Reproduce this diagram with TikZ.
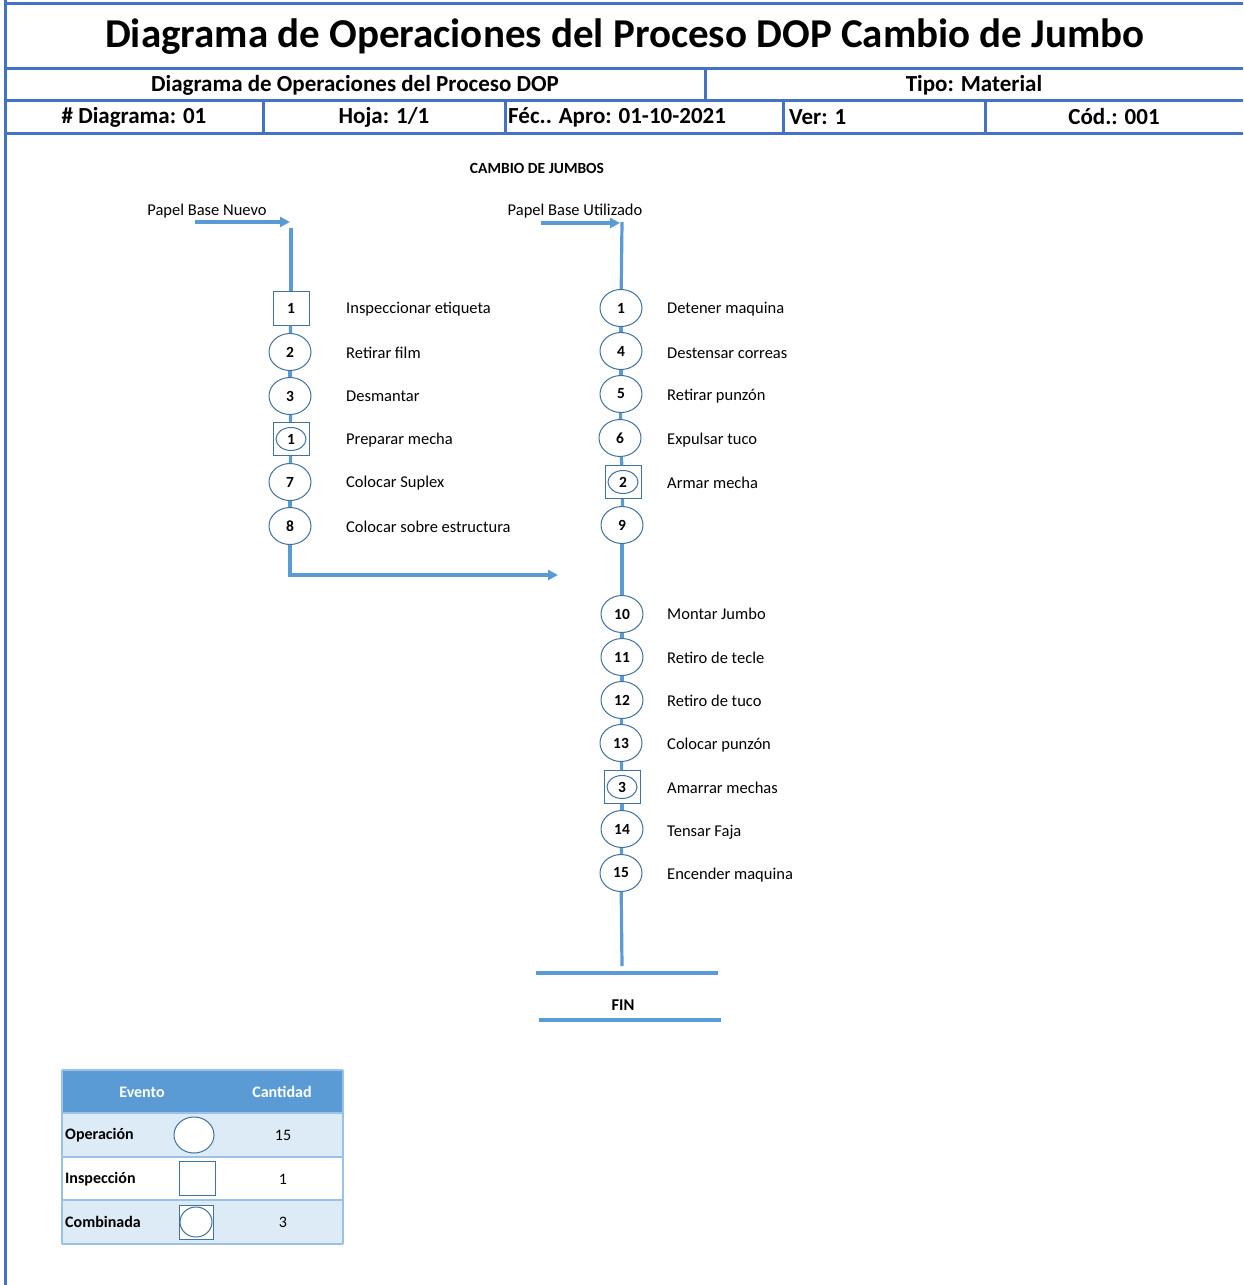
\documentclass[tikz,border=0pt]{standalone}
\usepackage{fontspec}
\setmainfont{Carlito}
\usepackage{tikz}
\usetikzlibrary{shapes.geometric, arrows.meta, positioning, calc}
\definecolor{dopFrame}{RGB}{68, 114, 196}
\definecolor{dopFlow}{RGB}{91, 155, 213}
\definecolor{dopEdge}{RGB}{65, 113, 156}
\definecolor{dopPale}{RGB}{221, 235, 247}
\definecolor{dopGrid}{RGB}{155, 194, 230}
\tikzset{
  frameline/.style={line width=3pt, dopFrame},
  flowline/.style={line width=3.2pt, dopFlow},
  flowarrow/.style={flowline, -{Triangle[length=10pt, width=10pt]}},
  opnode/.style={ellipse, draw=dopEdge, line width=1pt, fill=white, minimum width=42pt, minimum height=37pt, inner sep=0pt, font=\fontsize{15.5}{18}\selectfont\bfseries},
  insnode/.style={rectangle, draw=dopEdge, line width=1pt, fill=white, minimum width=36pt, minimum height=34pt, inner sep=0pt, font=\fontsize{15.5}{18}\selectfont\bfseries},
  combonode/.style={rectangle, draw=dopEdge, line width=1pt, fill=white, minimum width=36pt, minimum height=33pt, inner sep=0pt, font=\fontsize{15.5}{18}\selectfont\bfseries,
    path picture={\draw[dopEdge, line width=1pt] (path picture bounding box.center) ellipse (15pt and 11.5pt);}},
  stepbox/.style={anchor=west, inner sep=0pt, font=\fontsize{16.5}{19}\selectfont},
  headtext/.style={inner sep=0pt, font=\fontsize{23}{26}\selectfont\bfseries},
  celltext/.style={inner sep=0pt, font=\fontsize{16}{19}\selectfont},
}

\begin{document}
\begin{tikzpicture}[x=1pt, y=-1pt]
  \useasboundingbox (0,0) rectangle (1243,1285);

  % header frame
  \draw[frameline] (5,0) -- (5,1285);
  \foreach \y in {3, 68, 100, 133}
    \draw[frameline] (5,\y) -- (1243,\y);
  \draw[frameline] (705,68) -- (705,100);
  \foreach \x in {263, 505, 783, 985}
    \draw[frameline] (\x,100) -- (\x,133);

  \node[inner sep=0pt, font=\fontsize{41}{46}\selectfont\bfseries] (title) at (625,37) {Diagrama de Operaciones del Proceso DOP Cambio de Jumbo};
  \node[headtext] (hdop) at (355,85) {Diagrama de Operaciones del Proceso DOP};
  \node[headtext] (htipo) at (974,85) {Tipo: Material};
  \node[headtext] (hdiag) at (134,117) {\# Diagrama: 01};
  \node[headtext] (hhoja) at (384,117) {Hoja: 1/1};
  \node[headtext, anchor=west] (hfec) at (508,117) {Féc.. Apro: 01-10-2021};
  \node[headtext, anchor=west] (hver) at (789,117) {Ver: 1};
  \node[headtext] (hcod) at (1114,117) {Cód.: 001};

  \node[inner sep=0pt, font=\fontsize{15.5}{18}\selectfont\bfseries] (cambio) at (537,168) {CAMBIO DE JUMBOS};

  % inputs
  \node[celltext, font=\fontsize{16.5}{19}\selectfont] (pbn) at (207,211) {Papel Base Nuevo};
  \node[celltext, font=\fontsize{16.5}{19}\selectfont] (pbu) at (575,211) {Papel Base Utilizado};
  \coordinate (srcL) at (195,222);
  \coordinate (tipL) at (290,222);
  \coordinate (inL) at (291,228);
  \coordinate (srcR) at (541,223);
  \coordinate (tipR) at (620,223);
  \coordinate (inR) at (622,222);
  \coordinate (joinR) at (558,575);
  \coordinate (endR) at (622,966);

  % left column
  \node[insnode] (l1) at (291,308) {1};
  \node[opnode] (l2) at (290,352) {2};
  \node[opnode] (l3) at (290,396) {3};
  \node[combonode] (l4) at (291,439) {1};
  \node[opnode] (l5) at (290,482) {7};
  \node[opnode] (l6) at (290,526) {8};

  \node[stepbox] (tl1) at (346,309) {Inspeccionar etiqueta};
  \node[stepbox] (tl2) at (346,353) {Retirar film};
  \node[stepbox] (tl3) at (346,396) {Desmantar};
  \node[stepbox] (tl4) at (346,440) {Preparar mecha};
  \node[stepbox] (tl5) at (346,483) {Colocar Suplex};
  \node[stepbox] (tl6) at (346,527) {Colocar sobre estructura};

  % right column
  \node[opnode] (r1) at (621,308) {1};
  \node[opnode] (r2) at (621,351) {4};
  \node[opnode] (r3) at (621,394) {5};
  \node[opnode] (r4) at (620,438) {6};
  \node[combonode] (r5) at (623,482) {2};
  \node[opnode] (r6) at (622,525) {9};
  \node[opnode] (r7) at (622,614) {10};
  \node[opnode] (r8) at (622,657) {11};
  \node[opnode] (r9) at (622,700) {12};
  \node[opnode] (r10) at (621,743) {13};
  \node[combonode] (r11) at (622,787) {3};
  \node[opnode] (r12) at (622,829) {14};
  \node[opnode] (r13) at (621,873) {15};

  \node[stepbox] (tr1) at (667,309) {Detener maquina};
  \node[stepbox] (tr2) at (667,353) {Destensar correas};
  \node[stepbox] (tr3) at (667,396) {Retirar punzón};
  \node[stepbox] (tr4) at (667,440) {Expulsar tuco};
  \node[stepbox] (tr5) at (667,483) {Armar mecha};
  \node[stepbox] (tr7) at (667,614) {Montar Jumbo};
  \node[stepbox] (tr8) at (667,658) {Retiro de tecle};
  \node[stepbox] (tr9) at (667,701) {Retiro de tuco};
  \node[stepbox] (tr10) at (667,745) {Colocar punzón};
  \node[stepbox] (tr11) at (667,788) {Amarrar mechas};
  \node[stepbox] (tr12) at (667,832) {Tensar Faja};
  \node[stepbox] (tr13) at (667,875) {Encender maquina};

  % flow lines
  \draw[flowarrow] (srcL) -- (tipL);
  \draw[flowarrow] (srcR) -- (tipR);
  \draw[flowline] (inL) -- (l1);
  \foreach \a/\b in {l1/l2, l2/l3, l3/l4, l4/l5, l5/l6}
    \draw[flowline] (\a) -- (\b);
  \draw[flowarrow] (l6) |- (joinR);
  \draw[flowline] (inR) -- (r1);
  \foreach \a/\b in {r1/r2, r2/r3, r3/r4, r4/r5, r5/r6, r6/r7, r7/r8, r8/r9, r9/r10, r10/r11, r11/r12, r12/r13}
    \draw[flowline] (\a) -- (\b);
  \draw[flowline] (r13) -- (endR);

  % fin
  \draw[line width=4pt, dopFlow] (536,973) -- (718,973);
  \node[inner sep=0pt, font=\fontsize{16.5}{19}\selectfont\bfseries] (fin) at (623,1005) {FIN};
  \draw[line width=4pt, dopFlow] (539,1020) -- (721,1020);

  % summary table
  \fill[dopFlow] (62,1070) rectangle (343,1113);
  \foreach \y/\fc in {1113/dopPale, 1157/white, 1200/dopPale}
    \fill[\fc] (62,\y) rectangle (343,\y+44);
  \foreach \y in {1070, 1113, 1157, 1200, 1244}
    \draw[dopGrid, line width=2pt] (62,\y) -- (343,\y);
  \draw[dopGrid, line width=2pt] (62,1070) -- (62,1244);
  \draw[dopGrid, line width=2pt] (343,1070) -- (343,1244);

  \node[celltext, font=\fontsize{16}{19}\selectfont\bfseries, text=white] (evento) at (142,1092) {Evento};
  \node[celltext, font=\fontsize{16}{19}\selectfont\bfseries, text=white] (cantidad) at (282,1092) {Cantidad};
  \node[celltext, anchor=west, font=\fontsize{16}{19}\selectfont\bfseries] (lop) at (65,1135) {Operación};
  \node[celltext, anchor=west, font=\fontsize{16}{19}\selectfont\bfseries] (lins) at (65,1179) {Inspección};
  \node[celltext, anchor=west, font=\fontsize{16}{19}\selectfont\bfseries] (lcomb) at (65,1222) {Combinada};
  \node[opnode, minimum width=40pt, minimum height=36pt] (legop) at (194,1135) {};
  \node[insnode] (legins) at (197,1178) {};
  \node[combonode, minimum width=34pt, minimum height=34pt,
    path picture={\draw[dopEdge, line width=1pt] (path picture bounding box.center) ellipse (16pt and 15pt);}] (legcomb) at (196,1222) {};
  \node[celltext] (nop) at (283,1135) {15};
  \node[celltext] (nins) at (283,1179) {1};
  \node[celltext] (ncomb) at (283,1222) {3};
\end{tikzpicture}
\end{document}
